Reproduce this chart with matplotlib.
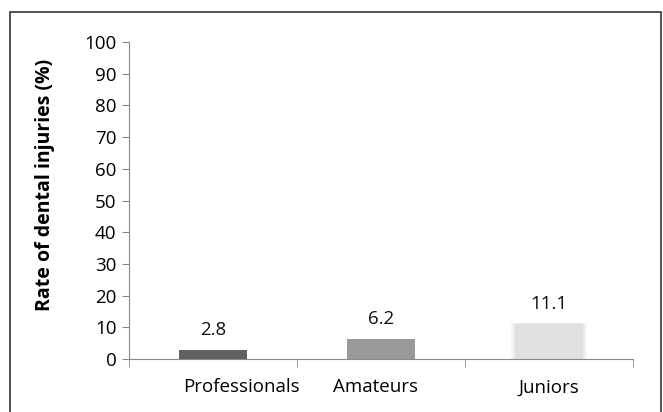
import matplotlib.pyplot as plt
import matplotlib.patches as patches
import matplotlib.transforms as mtransforms
import numpy as np

categories = ["Professionals", "Amateurs", "Juniors"]
rates = [2.8, 6.2, 11.1]
bar_colors = ["#606060", "#999999", "#e0e0e0"]

plt.rcParams["font.family"] = ["Open Sans", "DejaVu Sans"]

fig = plt.figure(figsize=(6.63, 4.12), dpi=100)
ax = fig.add_axes([0.1946, 0.1286, 0.7602, 0.7694])

# outer frame around the chart
fig.patches.append(patches.Rectangle((10 / 663, -0.05), 651 / 663, 1.05 - 12 / 412,
                                     transform=fig.transFigure, fill=False,
                                     edgecolor="#444444", linewidth=1.3))

x = np.arange(len(categories))
for xi, r, c in zip(x, rates, bar_colors):
    if c == "#e0e0e0":
        # soft-edged light bar
        for k, a in enumerate([0.25, 0.5, 1.0]):
            grow = (2 - k) * 0.012
            ax.bar(xi, r + grow * 10, width=0.4 + grow * 2, bottom=0, color=c, alpha=a,
                   linewidth=0, zorder=2)
    else:
        ax.bar(xi, r, width=0.4, color=c, linewidth=0, zorder=2)
    ax.text(xi, r + 3.5, f"{r}", ha="center", va="bottom", fontsize=13.5, color="#111111")

ax.set_xlim(-0.5, 2.5)
ax.set_ylim(0, 100)
ax.set_yticks(np.arange(0, 101, 10))
ax.set_xticks(x)
ax.set_xticklabels(categories, fontsize=13.5)
ax.set_xticks([-0.5, 0.5, 1.5, 2.5], minor=True)
ax.tick_params(axis="x", which="major", length=0, pad=14)
ax.tick_params(axis="x", which="minor", length=6, color="#888888")
ax.tick_params(axis="y", length=5, color="#888888", labelsize=13.5, pad=4)

# Excel-style offsets of the category labels
shifts = [28, -6, 0]
for lbl, dx in zip(ax.get_xticklabels(), shifts):
    lbl.set_transform(lbl.get_transform() + mtransforms.ScaledTranslation(dx / 100, 0, fig.dpi_scale_trans))

for s in ["top", "right"]:
    ax.spines[s].set_visible(False)
for s in ["left", "bottom"]:
    ax.spines[s].set_color("#888888")

ax.set_ylabel("Rate of dental injuries (%)", fontsize=14, fontweight="bold")
ax.yaxis.set_label_coords(-0.147, 0.55)

fig.savefig("out.png", dpi=100)
